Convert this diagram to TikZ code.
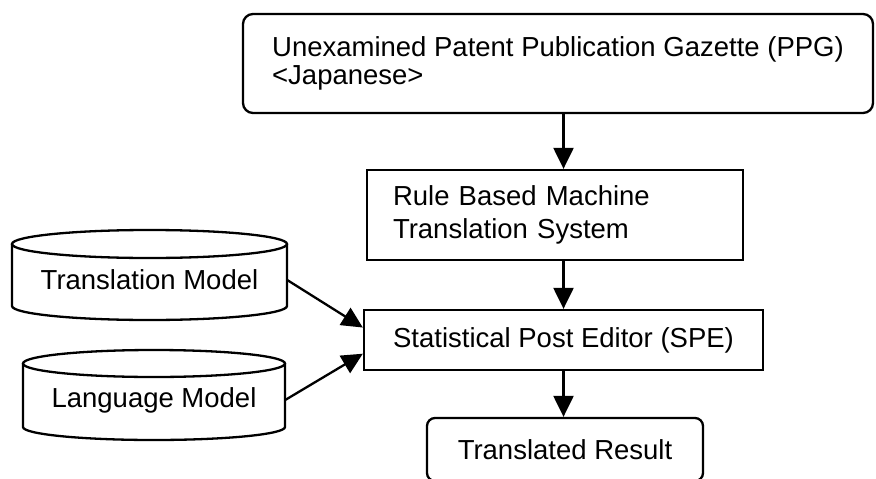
\documentclass[tikz,border=0pt]{standalone}
\usepackage{fontspec}
\setmainfont{Liberation Sans}
\usetikzlibrary{arrows.meta,calc}
\begin{document}
\begin{tikzpicture}[x=1pt,y=-1pt,
  box/.style={draw, line width=2.3pt, inner sep=0pt, font=\fontsize{27.5}{33}\selectfont},
  arr/.style={line width=2.3pt, -{Triangle[length=21pt,width=20pt]}},
  cyl/.style={line width=2.3pt},
  cyltext/.style={inner sep=0pt, font=\fontsize{27.5}{33}\selectfont}]
\useasboundingbox (0,0) rectangle (876,479);
% boxes
\node[box, rounded corners=10pt, minimum width=630pt, minimum height=99pt, align=left,
      font=\fontsize{27.5}{28}\selectfont] (ppg) at (558,63.5)
      {Unexamined Patent Publication Gazette (PPG)\\<Japanese>};
\node[box, minimum width=376pt, minimum height=90pt, text width=324pt, inner xsep=26pt,
      align=left] (rbmt) at (555,215) {Rule Based Machine\\Translation System};
\node[box, minimum width=399pt, minimum height=60pt] (spe) at (563.5,340)
      {Statistical Post Editor (SPE)};
\node[box, rounded corners=8pt, minimum width=276pt, minimum height=63pt] (tr) at (565,449.5)
      {Translated Result};
% cylinders
\draw[cyl] (149.5,244) ellipse [x radius=137.5pt, y radius=14pt];
\draw[cyl] (12,244) -- (12,306) arc [start angle=180, end angle=360, x radius=137.5pt, y radius=14pt] -- (287,244);
\node[cyltext, minimum width=275pt] (tm) at (149.5,280) {Translation Model};
\draw[cyl] (154,363.5) ellipse [x radius=131pt, y radius=13.5pt];
\draw[cyl] (23,363.5) -- (23,427) arc [start angle=180, end angle=360, x radius=131pt, y radius=13pt] -- (285,363.5);
\node[cyltext, minimum width=262pt] (lm) at (154,400) {Language Model};
% arrows
\draw[arr] (ppg.south -| spe.north) -- (rbmt.north -| spe.north);
\draw[arr] (rbmt.south -| spe.north) -- (spe.north);
\draw[arr] (spe.south) -- (tr.north -| spe.south);
\draw[arr] (tm.east) -- ($(spe.north west)!0.3!(spe.south west)$);
\draw[arr] (lm.east) -- ($(spe.north west)!0.72!(spe.south west)$);
\end{tikzpicture}
\end{document}
